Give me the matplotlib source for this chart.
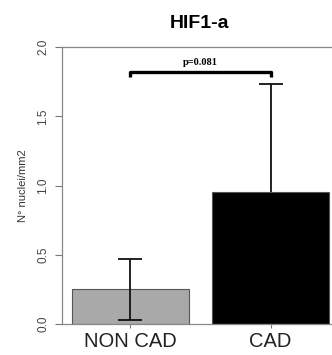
import matplotlib.pyplot as plt
import numpy as np

# data
groups = ["NON CAD", "CAD"]
means = [0.25, 0.95]
errs = [0.22, 0.78]
colors = ["#a9a9a9", "#000000"]
pos = [0.7, 1.9]
p_text = "p=0.081"
p_y = 1.82

fig = plt.figure(figsize=(3.32, 3.55), dpi=100)
ax = fig.add_axes([0.1867, 0.0873, 0.8133, 0.7803])

ax.bar(pos, means, width=1.0, color=colors, edgecolor="#555555", linewidth=0.8, zorder=2)
# whisker of the grey bar drawn on top, the one of the black bar behind it
for i in range(len(pos)):
    ax.errorbar(pos[i], means[i], yerr=errs[i], fmt="none", ecolor="#111111",
                elinewidth=1.3, capsize=8.6, capthick=1.3,
                zorder=3 if i == 0 else 1)

# significance bracket
ax.plot([pos[0], pos[0], pos[1], pos[1]], [p_y - 0.04, p_y, p_y, p_y - 0.04],
        color="black", lw=2.4, solid_capstyle="butt")
ax.text(np.mean(pos), p_y + 0.035, p_text, ha="center", va="bottom",
        fontsize=7.5, family="Liberation Serif", fontweight="bold")

ax.set_xlim(0.113, 2.427)
ax.set_ylim(0, 2.0)
ax.set_xticks(pos)
ax.set_xticklabels(groups, fontsize=14.5, family="Liberation Sans", color="#222222")
ax.set_yticks([0, 0.5, 1.0, 1.5, 2.0])
ax.set_yticklabels(["0.0", "0.5", "1.0", "1.5", "2.0"], rotation=90,
                   va="center", fontsize=8.5, family="Liberation Sans", color="#444444")
ax.tick_params(axis="y", length=5, width=0.8, color="#777777", pad=4)
ax.tick_params(axis="x", length=3, width=0.8, color="#777777", pad=3)

for s in ["left", "bottom", "top"]:
    ax.spines[s].set_color("#888888")
    ax.spines[s].set_linewidth(0.9)
ax.spines["right"].set_visible(False)

ax.set_ylabel("N° nuclei/mm2", fontsize=8, family="Liberation Sans",
              color="#333333", labelpad=7)
fig.text(0.6, 0.935, "HIF1-a", ha="center", va="center", fontsize=14,
         fontweight="bold", family="Liberation Sans")

fig.savefig("out.png", dpi=100)
